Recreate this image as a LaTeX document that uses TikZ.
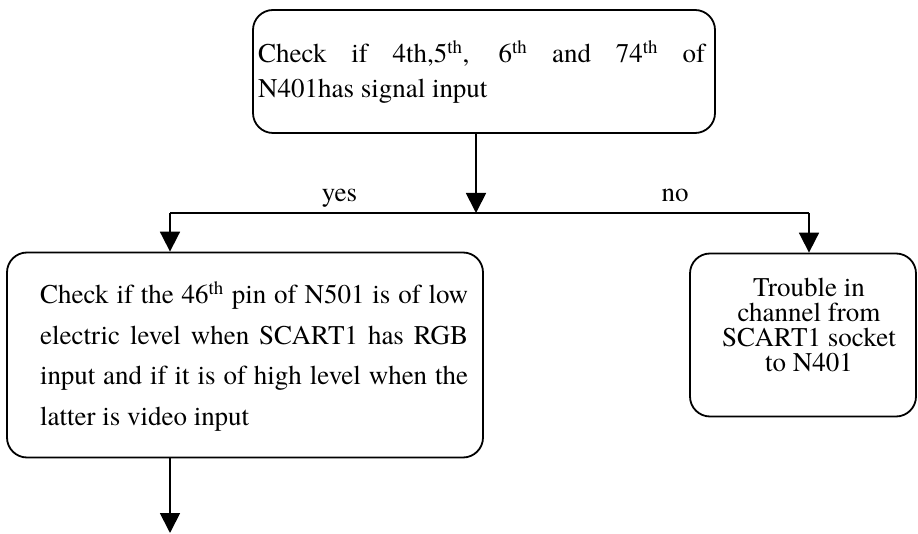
\documentclass[tikz,border=0pt]{standalone}
\usepackage{fontspec}
\setmainfont{texgyretermes}[Extension=.otf,UprightFont=*-regular,BoldFont=*-bold,ItalicFont=*-italic,BoldItalicFont=*-bolditalic]
\usetikzlibrary{arrows.meta}
\begin{document}
\begin{tikzpicture}[x=1pt,y=-1pt,
  box/.style={draw,line width=1.8pt,rounded corners=20pt,inner sep=0pt},
  txt/.style={inner sep=0pt,anchor=base west,font=\rmfamily\fontsize{27}{35}\selectfont},
  lbl/.style={inner sep=0pt,anchor=base,font=\rmfamily\fontsize{27}{30}\selectfont},
  line/.style={line width=1.8pt},
  arr/.style={line width=1.8pt,-{Triangle[length=20pt,width=20pt]}}]
\useasboundingbox (0,0) rectangle (918,534);
% boxes
\node[box,minimum width=462pt,minimum height=123pt] (top) at (484,71.5) {};
\node[box,minimum width=476pt,minimum height=205pt] (left) at (245,355) {};
\node[box,minimum width=226pt,minimum height=163pt] (right) at (803,335) {};
% texts
\node[txt] (ttop) at (258,63) {\parbox[t]{447pt}{\rmfamily\fontsize{27}{35}\selectfont\makebox[447pt][s]{Check if 4th,5\textsuperscript{th}, 6\textsuperscript{th} and 74\textsuperscript{th} of}\\N401has signal input}};
\node[txt] (tleft) at (40,304) {\parbox[t]{428pt}{\rmfamily\fontsize{27}{40.5}\selectfont\makebox[428pt][s]{Check if the 46\textsuperscript{th} pin of N501 is of low}\\\makebox[428pt][s]{electric level when SCART1 has RGB}\\\makebox[428pt][s]{input and if it is of high level when the}\\latter is video input}};
\node[lbl] (tright) at (809,297) {\parbox[t]{220pt}{\rmfamily\fontsize{27}{25}\selectfont\centering Trouble in\\channel from\\SCART1 socket\\to N401}};
\node[lbl] (yes) at (339.5,202) {yes};
\node[lbl] (no) at (675,202) {no};
% junction coordinates
\coordinate (hm) at (476,213);
\coordinate (yl) at (170,213);
\coordinate (nr) at (809,213);
\coordinate (end) at (170,533);
% connectors
\draw[arr] (top.south -| hm) -- (hm);
\draw[line] (yl) -- (nr);
\draw[arr] (yl) -- (yl |- left.north);
\draw[arr] (nr) -- (nr |- right.north);
\draw[arr] (left.south -| end) -- (end);
\end{tikzpicture}
\end{document}
